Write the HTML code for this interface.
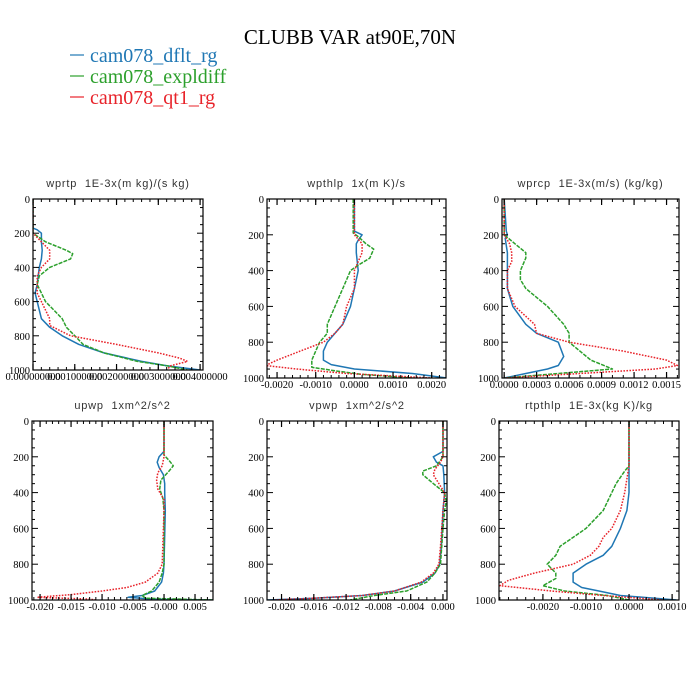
<!DOCTYPE html>
<html><head><meta charset="utf-8"><style>
html,body{margin:0;padding:0;background:#fff;}
svg{display:block;}
.ttl{font-family:"Liberation Sans",sans-serif;font-size:11px;fill:#333;letter-spacing:0.8px;white-space:pre;}
.tk{font-family:"Liberation Serif",serif;font-size:10.5px;fill:#000;}
</style></head><body>
<svg id="fig" width="700" height="700" viewBox="0 0 700 700">
<text x="350" y="44" text-anchor="middle" font-family="Liberation Serif,serif" font-size="21">CLUBB VAR at90E,70N</text>
<g>
<g><line x1="70" y1="55" x2="84" y2="55" stroke="#1f77b4" stroke-width="1.2"/><text x="90" y="62" font-family="Liberation Serif,serif" font-size="20" fill="#1f77b4">cam078_dflt_rg</text></g>
<g><line x1="70" y1="76" x2="84" y2="76" stroke="#2ca02c" stroke-width="1.2"/><text x="90" y="83" font-family="Liberation Serif,serif" font-size="20" fill="#2ca02c">cam078_expldiff</text></g>
<g><line x1="70" y1="97" x2="84" y2="97" stroke="#e8232a" stroke-width="1.2"/><text x="90" y="104" font-family="Liberation Serif,serif" font-size="20" fill="#e8232a">cam078_qt1_rg</text></g>
</g>
</svg>
<script>
// ---- data: pressure levels (hPa) and values per series ----
const p1BlueLev=[0,170,180,200,250,300,350,400,500,550,600,700,750,800,850,900,950,975,1000];
const p1BlueVal=[0,0,0.0001,0.0002,0.0002,0.00022,0.0002,0.00015,0.0001,0.00005,0.0001,0.0002,0.0004,0.0007,0.0011,0.0017,0.0026,0.0032,0.004];
const p1GreenLev=[0,200,250,300,320,350,400,450,500,550,600,650,700,750,800,850,900,950,975,1000];
const p1GreenVal=[0,0,0.0003,0.0008,0.00095,0.0009,0.0004,0.00015,0.0001,0.0002,0.0003,0.0005,0.0007,0.0008,0.001,0.0012,0.0017,0.0025,0.0032,0.0037];
const p1RedLev=[0,200,250,300,350,400,450,500,550,600,650,700,740,800,850,900,930,950,975,1000];
const p1RedVal=[0,0,0.0002,0.0004,0.0004,0.0002,0.0001,0.0001,0.0001,0.0002,0.0003,0.0004,0.0004,0.0009,0.002,0.003,0.0035,0.0037,0.0033,0.0032];

const p2BlueLev=[0,180,200,230,250,300,400,500,600,700,750,800,850,900,925,950,975,1000];
const p2BlueVal=[0,0,0.0002,0.0001,0.00005,0.00005,0.0001,0,-0.0001,-0.0003,-0.0005,-0.0007,-0.0008,-0.0008,-0.0006,0,0.0015,0.0024];
const p2GreenLev=[0,190,210,250,280,330,370,400,500,600,700,750,800,850,900,940,960,980,1000];
const p2GreenVal=[-0.00003,-0.00003,0.0001,0.0003,0.0005,0.0004,0.0001,-0.0001,-0.0003,-0.0005,-0.0007,-0.0007,-0.0009,-0.001,-0.0011,-0.0011,-0.0005,0.0002,0.0015];
const p2RedLev=[0,200,250,300,350,400,500,600,700,750,800,850,900,930,950,975,1000];
const p2RedVal=[0,0,0.0002,0.0002,0.0001,0,0,-0.0002,-0.0003,-0.0005,-0.0008,-0.0014,-0.002,-0.0023,-0.0015,-0.0002,0.002];

const p3BlueLev=[0,180,200,220,300,400,500,600,700,750,800,880,930,950,975,1000];
const p3BlueVal=[0,0.00002,0.00003,0.00001,0.00003,0.00003,0.00003,0.00008,0.0002,0.0003,0.0005,0.00055,0.0005,0.0004,0.0002,0];
const p3GreenLev=[0,200,250,300,330,400,450,500,550,600,700,750,800,850,900,950,975,1000];
const p3GreenVal=[0,0,0.0001,0.0002,0.0002,0.00015,0.00015,0.0002,0.0003,0.0004,0.00055,0.0006,0.0006,0.0007,0.0008,0.001,0.0005,0];
const p3RedLev=[0,200,250,300,350,400,500,600,700,750,800,850,900,930,950,975,1000];
const p3RedVal=[0,0,0.00005,0.00007,0.00007,0.00003,0.00003,0.0001,0.00028,0.0003,0.0006,0.0011,0.0015,0.0016,0.0014,0.0007,0];

const p4BlueLev=[0,170,200,230,260,300,350,400,500,800,850,900,950,975,985,995,1000];
const p4BlueVal=[0,0,-0.0008,-0.0011,-0.0008,-0.0001,0.0001,0.0001,0.0002,0,-0.0001,-0.0004,-0.0015,-0.0035,-0.0058,-0.002,0.0079];
const p4GreenLev=[0,190,220,250,280,330,380,430,500,800,850,900,950,975,990,1000];
const p4GreenVal=[0,0,0.0008,0.0015,0.0008,-0.0005,-0.0007,-0.0002,0,0,-0.0003,-0.0008,-0.002,-0.0035,-0.003,0.0079];
const p4RedLev=[0,200,250,290,330,380,440,500,800,850,900,930,950,970,985,995,1000];
const p4RedVal=[0,0,-0.0003,-0.001,-0.0012,-0.001,0,0,-0.0003,-0.001,-0.003,-0.006,-0.01,-0.015,-0.0205,-0.012,-0.011];

const p5BlueLev=[0,170,200,230,250,300,400,500,600,700,800,850,900,950,975,990,1000];
const p5BlueVal=[0,0,-0.0012,-0.0008,0,0.0001,0.0002,0,-0.0001,-0.0002,-0.0004,-0.001,-0.0025,-0.006,-0.01,-0.016,-0.022];
const p5GreenLev=[0,200,250,280,300,350,400,450,500,600,800,850,900,950,975,1000];
const p5GreenVal=[0,0,-0.0008,-0.0025,-0.0025,-0.0012,0.0002,0.0004,0.0002,0,-0.0003,-0.001,-0.002,-0.0045,-0.0085,-0.0115];
const p5RedLev=[0,200,230,270,300,350,400,500,700,800,850,900,950,975,990,1000];
const p5RedVal=[0,0,-0.0003,-0.001,-0.0012,-0.0005,0.0002,0,-0.0003,-0.0005,-0.0012,-0.0027,-0.006,-0.01,-0.016,-0.021];

const p6BlueLev=[0,400,500,600,700,750,800,850,900,930,950,975,1000];
const p6BlueVal=[0,0,-0.00005,-0.0002,-0.0004,-0.0006,-0.001,-0.0013,-0.0013,-0.0011,-0.0007,-0.0002,0.0011];
const p6GreenLev=[0,250,280,350,400,500,600,650,700,750,800,850,880,920,950,975,1000];
const p6GreenVal=[0,0,-0.0001,-0.0003,-0.0004,-0.0006,-0.001,-0.0013,-0.0016,-0.0017,-0.0019,-0.0017,-0.0017,-0.002,-0.0015,-0.0005,0];
const p6RedLev=[0,250,400,500,600,650,700,750,800,850,890,920,950,975,1000];
const p6RedVal=[0,0,-0.0001,-0.0002,-0.0004,-0.0006,-0.0007,-0.0009,-0.0013,-0.0022,-0.0028,-0.003,-0.0018,-0.0006,0.0008];

// tick values & labels
const yTicks=[0,200,400,600,800,1000];
const p1XTicks=[0,0.001,0.002,0.003,0.004];
const p1XLabels=["0.000000000","0.001000000","0.002000000","0.003000000","0.004000000"];
const p2XTicks=[-0.002,-0.001,0,0.001,0.002];
const p2XLabels=["-0.0020","-0.0010","0.0000","0.0010","0.0020"];
const p3XTicks=[0,0.0003,0.0006,0.0009,0.0012,0.0015];
const p3XLabels=["0.0000","0.0003","0.0006","0.0009","0.0012","0.0015"];
const p4XTicks=[-0.02,-0.015,-0.01,-0.005,0,0.005];
const p4XLabels=["-0.020","-0.015","-0.010","-0.005","-0.000","0.005"];
const p5XTicks=[-0.02,-0.016,-0.012,-0.008,-0.004,0];
const p5XLabels=["-0.020","-0.016","-0.012","-0.008","-0.004","0.000"];
const p6XTicks=[-0.002,-0.001,0,0.001];
const p6XLabels=["-0.0020","-0.0010","0.0000","0.0010"];

const NS='http://www.w3.org/2000/svg';
const svg=document.getElementById('fig');
function mk(tag,attrs,parent){const e=document.createElementNS(NS,tag);for(const k in attrs)e.setAttribute(k,attrs[k]);parent.appendChild(e);return e;}

const panels=[
 {name:'wprtp',title:'wprtp  1E-3x(m kg)/(s kg)',x0:33,x1:203,y0:199,y1:370,xmin:0,xmax:0.00407,minor:0.0002,ticks:p1XTicks,labels:p1XLabels,lfs:10.5,
  series:[[p1BlueLev,p1BlueVal],[p1GreenLev,p1GreenVal],[p1RedLev,p1RedVal]]},
 {name:'wpthlp',title:'wpthlp  1x(m K)/s',x0:267,x1:446,y0:199,y1:378,xmin:-0.00226,xmax:0.00237,minor:0.0002,ticks:p2XTicks,labels:p2XLabels,lfs:10,
  series:[[p2BlueLev,p2BlueVal],[p2GreenLev,p2GreenVal],[p2RedLev,p2RedVal]]},
 {name:'wprcp',title:'wprcp  1E-3x(m/s) (kg/kg)',x0:502,x1:679,y0:199,y1:378,xmin:-0.00002,xmax:0.001615,minor:0.0001,ticks:p3XTicks,labels:p3XLabels,lfs:10,
  series:[[p3BlueLev,p3BlueVal],[p3GreenLev,p3GreenVal],[p3RedLev,p3RedVal]]},
 {name:'upwp',title:'upwp  1xm^2/s^2',x0:32,x1:213,y0:421,y1:600,xmin:-0.0213,xmax:0.0079,minor:0.001,ticks:p4XTicks,labels:p4XLabels,lfs:10.5,
  series:[[p4BlueLev,p4BlueVal],[p4GreenLev,p4GreenVal],[p4RedLev,p4RedVal]]},
 {name:'vpwp',title:'vpwp  1xm^2/s^2',x0:267,x1:447,y0:421,y1:600,xmin:-0.0218,xmax:0.0005,minor:0.001,ticks:p5XTicks,labels:p5XLabels,lfs:10.5,
  series:[[p5BlueLev,p5BlueVal],[p5GreenLev,p5GreenVal],[p5RedLev,p5RedVal]]},
 {name:'rtpthlp',title:'rtpthlp  1E-3x(kg K)/kg',x0:499,x1:679,y0:421,y1:600,xmin:-0.00302,xmax:0.00116,minor:0.0002,ticks:p6XTicks,labels:p6XLabels,lfs:10.5,
  series:[[p6BlueLev,p6BlueVal],[p6GreenLev,p6GreenVal],[p6RedLev,p6RedVal]]}
];
const styles=[
 {c:'#1f77b4',d:'',n:'dflt-line'},
 {c:'#2ca02c',d:'4,1.2',n:'expldiff-line'},
 {c:'#e8232a',d:'1.6,1.4',n:'qt1-line'}];

panels.forEach(p=>{
 const g=mk('g',{},svg);
 
 
 const sx=v=>p.x0+(v-p.xmin)/(p.xmax-p.xmin)*(p.x1-p.x0);
 const sy=v=>p.y0+v/1000*(p.y1-p.y0);
 const t=mk('text',{x:(p.x0+p.x1)/2,y:p.y0-12,'text-anchor':'middle',class:'ttl'},g);
 t.textContent=p.title;
 
 
 const cid='clip-'+p.name;
 const cp=mk('clipPath',{id:cid},g);
 mk('rect',{x:p.x0,y:p.y0,width:p.x1-p.x0,height:p.y1-p.y0},cp);
 const lg=mk('g',{'clip-path':'url(#'+cid+')'},g);
 p.series.forEach((s,i)=>{
  const pts=s[0].map((lv,j)=>sx(s[1][j]).toFixed(1)+','+sy(lv).toFixed(1)).join(' ');
  const pl=mk('polyline',{points:pts,fill:'none',stroke:styles[i].c,'stroke-width':1.5,'stroke-dasharray':styles[i].d,'stroke-linejoin':'round'},lg);
  
  
 });
 const fr=mk('rect',{x:p.x0,y:p.y0,width:p.x1-p.x0,height:p.y1-p.y0,fill:'none',stroke:'#000','stroke-width':1.2},g);
 
 
 const yax=mk('g',{},g);
 
 
 for(let v=0;v<=1000;v+=50){
  const y=sy(v),L=(v%200===0)?6:3;
  mk('line',{x1:p.x0,y1:y,x2:p.x0+L,y2:y,stroke:'#000','stroke-width':1},yax);
  mk('line',{x1:p.x1,y1:y,x2:p.x1-L,y2:y,stroke:'#000','stroke-width':1},yax);
 }
 yTicks.forEach(v=>{
  const tt=mk('text',{x:p.x0-3,y:sy(v)+4,'text-anchor':'end',class:'tk'},yax);
  tt.textContent=String(v);
 });
 const xax=mk('g',{},g);
 
 
 const start=Math.ceil(p.xmin/p.minor-1e-6);
 for(let k=start;k*p.minor<=p.xmax+1e-12;k++){
  const x=sx(k*p.minor);
  mk('line',{x1:x,y1:p.y1,x2:x,y2:p.y1-3,stroke:'#000','stroke-width':1},xax);
  mk('line',{x1:x,y1:p.y0,x2:x,y2:p.y0+3,stroke:'#000','stroke-width':1},xax);
 }
 p.ticks.forEach((v,i)=>{
  const x=sx(v);
  mk('line',{x1:x,y1:p.y1,x2:x,y2:p.y1-6,stroke:'#000','stroke-width':1.2},xax);
  mk('line',{x1:x,y1:p.y0,x2:x,y2:p.y0+6,stroke:'#000','stroke-width':1.2},xax);
  const tt=mk('text',{x:x,y:p.y1+10,'text-anchor':'middle',class:'tk','font-size':p.lfs},xax);
  tt.textContent=p.labels[i];
 });
});
</script>
</body></html>
